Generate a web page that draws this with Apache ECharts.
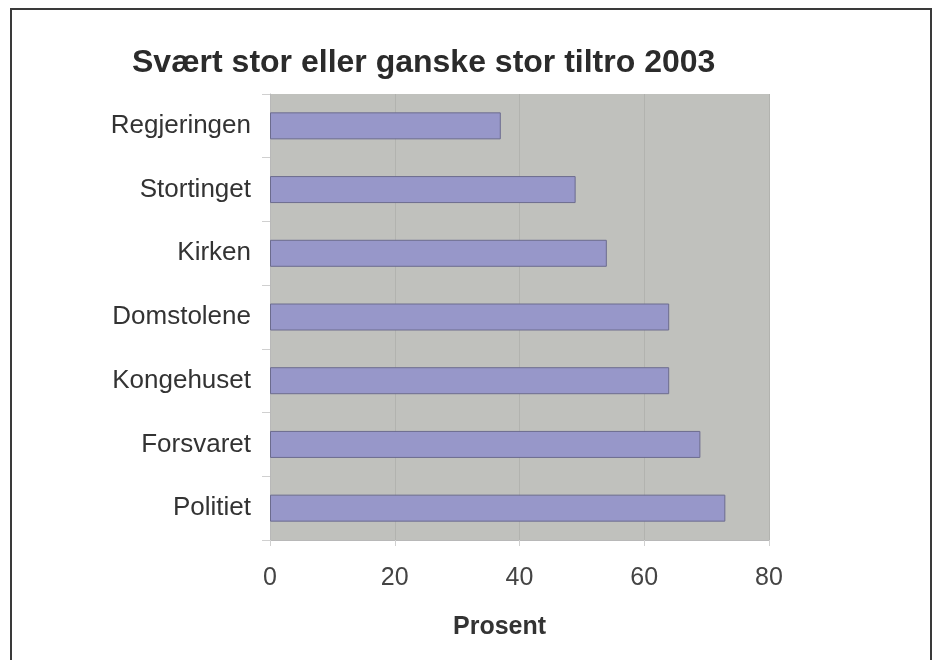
<!DOCTYPE html>
<html>
<head>
<meta charset="utf-8">
<script src="https://cdn.jsdelivr.net/npm/echarts@6/dist/echarts.min.js"></script>
<style>
    html, body { margin: 0; padding: 0; background: #fff; }
    #chart { width: 935px; height: 660px; }
</style>
</head>
<body>
<div id="chart"></div>
<script>
// data
const categories = ['Regjeringen', 'Stortinget', 'Kirken', 'Domstolene', 'Kongehuset', 'Forsvaret', 'Politiet'];
const values = [37, 49, 54, 64, 64, 69, 73];
const xTicks = [0, 20, 40, 60, 80];

const FONT = '"Liberation Sans", Arial, sans-serif';

function initChart() {
    const chart = echarts.init(document.getElementById('chart'));
    const option = {
        backgroundColor: '#fff',
        animation: false,
        title: {
            text: 'Svært stor eller ganske stor tiltro 2003',
            left: 127,
            top: 42,
            textStyle: {
                fontFamily: FONT,
                fontSize: 32,
                fontWeight: 'bold',
                color: '#2b2b2b'
            }
        },
        graphic: [{
            // outer frame
            type: 'rect',
            shape: { x: 11, y: 9, width: 920, height: 700 },
            style: { fill: 'none', stroke: '#3a3a3a', lineWidth: 2 },
            silent: true
        }, {
            // axis title, sits a little left of the plot centre
            type: 'text',
            left: 453,
            top: 615,
            style: {
                text: 'Prosent',
                fontFamily: FONT,
                fontSize: 25,
                fontWeight: 'bold',
                fill: '#333'
            },
            silent: true
        }],
        grid: {
            left: 270,
            right: 166,
            top: 94,
            bottom: 120,
            show: true,
            backgroundColor: '#c0c1bd',
            borderWidth: 0
        },
        xAxis: {
            type: 'value',
            min: xTicks[0],
            max: xTicks[xTicks.length - 1],
            interval: 20,
            axisLine: { show: true, lineStyle: { color: '#b8b8b8', width: 1 } },
            axisTick: { show: true, length: 6, lineStyle: { color: '#d0d0d0' } },
            axisLabel: {
                margin: 26,
                fontFamily: FONT,
                fontSize: 25,
                color: '#444'
            },
            splitLine: { show: true, lineStyle: { color: '#b2b3af', width: 1 } }
        },
        yAxis: {
            type: 'category',
            data: categories,
            inverse: true,
            axisLine: { show: true, lineStyle: { color: '#b8b8b8', width: 1 } },
            axisTick: { show: true, length: 8, lineStyle: { color: '#d0d0d0' } },
            axisLabel: {
                margin: 19,
                fontFamily: FONT,
                fontSize: 26,
                color: '#333'
            }
        },
        series: [{
            type: 'bar',
            data: values,
            barWidth: 27,
            itemStyle: {
                color: '#9797c9',
                borderColor: '#6c6c8e',
                borderWidth: 1
            }
        }]
    };
    chart.setOption(option);
}

document.addEventListener('DOMContentLoaded', initChart);
</script>
</body>
</html>
